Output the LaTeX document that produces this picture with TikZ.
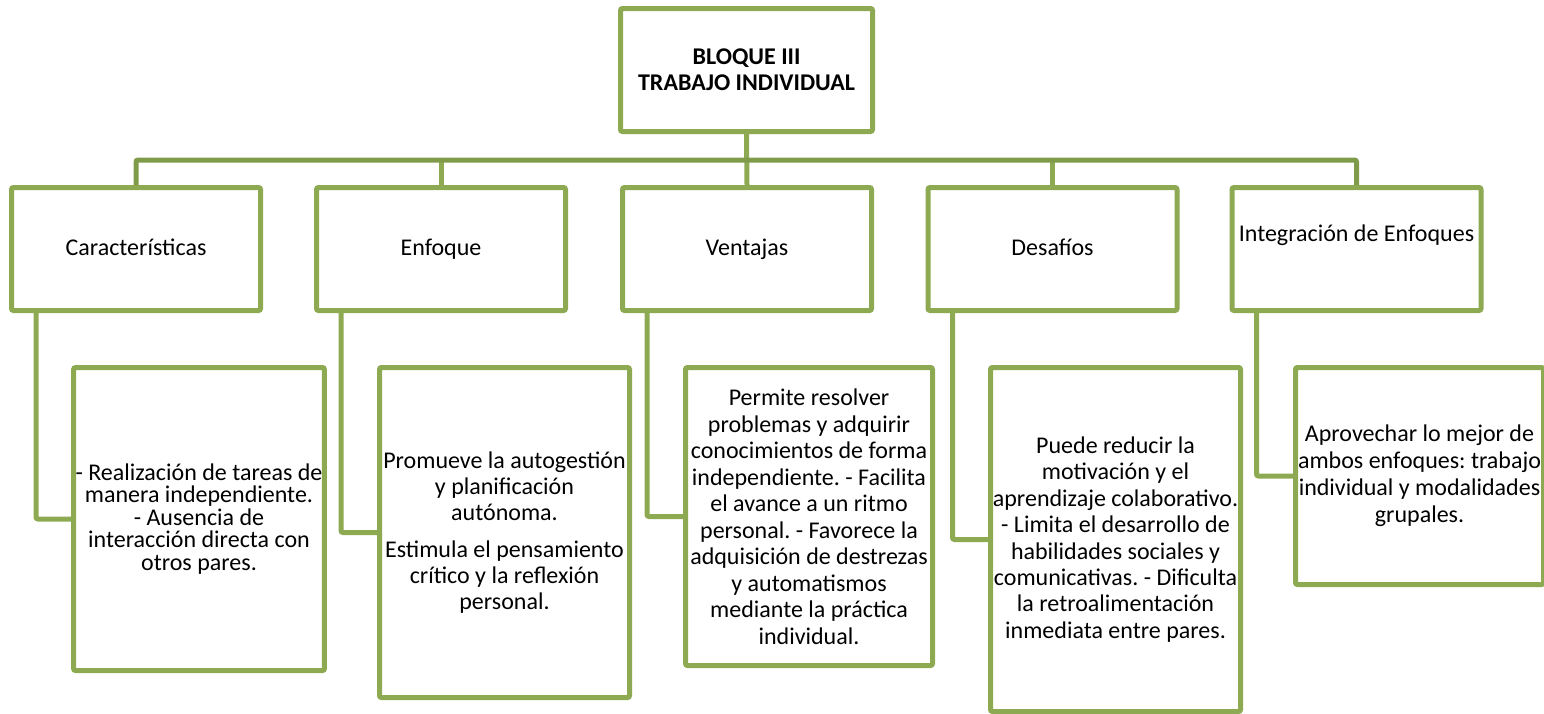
\documentclass[tikz,border=0pt]{standalone}
\usepackage{fontspec}
\setmainfont{Carlito}
\frenchspacing
\definecolor{verdecaja}{HTML}{8DAA52}
\definecolor{verdebarra}{HTML}{7F9B4A}

\begin{document}
\begin{tikzpicture}[x=1pt, y=-1pt,
    caja/.style={draw=verdecaja, line width=5pt, rounded corners=2pt, fill=white,
                 align=center, inner sep=2pt, minimum width=249pt,
                 font=\fontsize{24}{26.5}\selectfont},
    titulo/.style={caja, minimum height=123pt, text height=17pt, text depth=5pt},
    enlace/.style={draw=verdecaja, line width=5pt, rounded corners=2pt},
    barra/.style={draw=verdebarra, line width=5pt, rounded corners=2pt}]
    \useasboundingbox (0,0) rectangle (1544,713);

    % bloque principal
    \node[caja, minimum width=252pt, minimum height=123pt,
          font=\bfseries\fontsize{24}{26}\selectfont] (bloque) at (746.5,70)
          {BLOQUE III\\TRABAJO INDIVIDUAL};

    % segundo nivel
    \node[titulo] (car) at (136,249) {Características};
    \node[titulo] (enf) at (441,249) {Enfoque};
    \node[titulo] (ven) at (747,249) {Ventajas};
    \node[titulo] (des) at (1052.5,249) {Desafíos};
    \node[titulo, text depth=33pt] (int) at (1356.5,249) {Integración de Enfoques};

    % tercer nivel
    \node[caja, minimum height=303pt, font=\fontsize{24}{22.5}\selectfont] (d1) at (199,519)
        {- Realización de tareas de\\manera independiente.\\- Ausencia de\\interacción directa con\\otros pares.};
    \node[caja, minimum width=250pt, minimum height=330pt, font=\fontsize{24}{26}\selectfont] (d2) at (504.5,532.5)
        {Promueve la autogestión\\y planificación\\autónoma.\\[11pt]Estimula el pensamiento\\crítico y la reflexión\\personal.};
    \node[caja, minimum width=247pt, minimum height=298pt] (d3) at (809,516.5)
        {Permite resolver\\problemas y adquirir\\conocimientos de forma\\independiente. - Facilita\\el avance a un ritmo\\personal. - Favorece la\\adquisición de destrezas\\y automatismos\\mediante la práctica\\individual.};
    \node[caja, minimum width=250pt, minimum height=344pt, font=\fontsize{24}{26.4}\selectfont] (d4) at (1115.5,539.5)
        {Puede reducir la\\motivación y el\\aprendizaje colaborativo.\\- Limita el desarrollo de\\habilidades sociales y\\comunicativas. - Dificulta\\la retroalimentación\\inmediata entre pares.};
    \node[caja, minimum width=248pt, minimum height=217pt, font=\fontsize{24}{27}\selectfont] (d5) at (1419.5,476)
        {Aprovechar lo mejor de\\ambos enfoques: trabajo\\individual y modalidades\\grupales.};

    % conectores
    \path (bloque.south) ++(0,26) coordinate (cruce);
    \draw[enlace] (bloque.south) -- (ven.north);
    \draw[enlace] (enf.north) -- (enf.north |- cruce);
    \draw[enlace] (des.north) -- (des.north |- cruce);
    \draw[barra] (car.north) |- (cruce) -| (int.north);

    \foreach \a/\b in {car/d1, enf/d2, ven/d3, des/d4, int/d5}
        \draw[enlace] ([xshift=27pt]\a.south west) |- (\b.west);
\end{tikzpicture}
\end{document}
